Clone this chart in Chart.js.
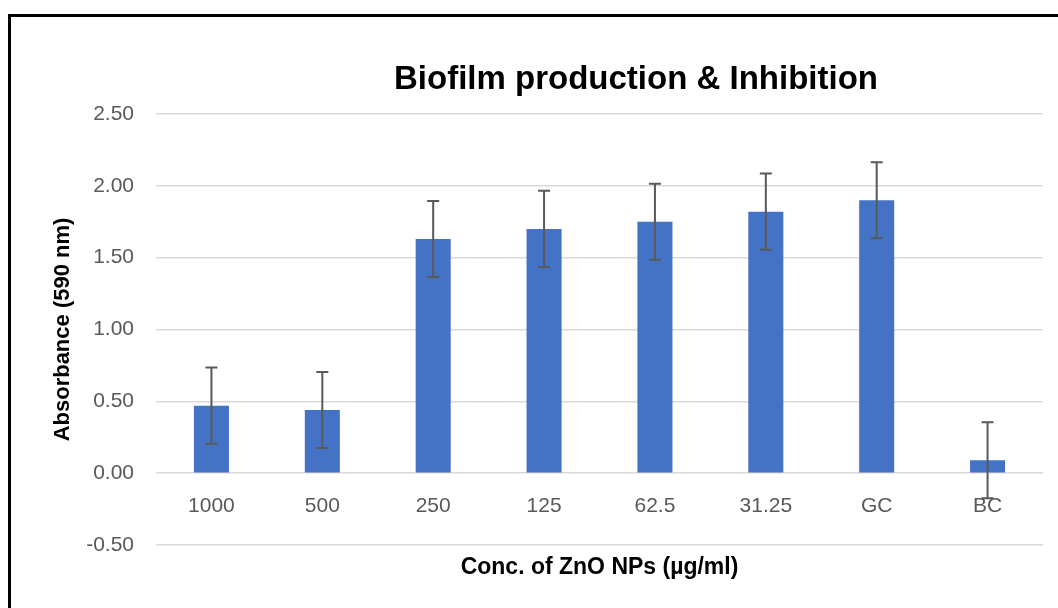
<!DOCTYPE html>
<html>
<head>
<meta charset="utf-8">
<script src="https://cdn.jsdelivr.net/npm/chart.js@4.4.1/dist/chart.umd.min.js"></script>
<style>
    body { margin: 0; overflow: hidden; background: #fff; }
    #moldura {
        position: absolute; left: 8px; top: 14px; width: 1200px; height: 700px;
        border-left: 3px solid #000; border-top: 3px solid #000;
    }
    #titulo {
        position: absolute; left: 336px; width: 600px; top: 58px;
        text-align: center; font: bold 33px "Liberation Sans", Arial, sans-serif;
        line-height: 40px; color: #000;
    }
    #grafico { position: absolute; left: 0; top: 0; }
</style>
</head>
<body>
<div id="moldura"></div>
<canvas id="grafico" width="1058" height="608"></canvas>
<div id="titulo">Biofilm production &amp; Inhibition</div>

<script>
// dados
var categorias = ['1000', '500', '250', '125', '62.5', '31.25', 'GC', 'BC'];
var absorbancia = [0.47, 0.44, 1.63, 1.70, 1.75, 1.82, 1.90, 0.09];
var erros = [0.265, 0.265, 0.265, 0.265, 0.265, 0.265, 0.265, 0.265];
var ticksY = [-0.5, 0, 0.5, 1.0, 1.5, 2.0, 2.5];

var fonte = '"Liberation Sans", Arial, sans-serif';

// desenha as barras de erro usando as escalas do proprio chart
var barrasErro = {
    id: 'barrasErro',
    afterDatasetsDraw: function (chart) {
        var ctx = chart.ctx;
        var x = chart.scales.x;
        var y = chart.scales.y;
        ctx.save();
        ctx.strokeStyle = '#595959';
        ctx.lineWidth = 2;
        for (var i = 0; i < absorbancia.length; i++) {
            var px = x.getPixelForValue(i);
            var topo = y.getPixelForValue(absorbancia[i] + erros[i]);
            var base = y.getPixelForValue(absorbancia[i] - erros[i]);
            ctx.beginPath();
            ctx.moveTo(px, topo);
            ctx.lineTo(px, base);
            ctx.moveTo(px - 6, topo);
            ctx.lineTo(px + 6, topo);
            ctx.moveTo(px - 6, base);
            ctx.lineTo(px + 6, base);
            ctx.stroke();
        }
        ctx.restore();
    }
};

new Chart(document.getElementById('grafico'), {
    type: 'bar',
    data: {
        labels: categorias,
        datasets: [{
            label: 'Absorbance',
            data: absorbancia,
            backgroundColor: '#4472C4',
            borderWidth: 0,
            barPercentage: 0.316,
            categoryPercentage: 1
        }]
    },
    options: {
        responsive: false,
        animation: false,
        devicePixelRatio: 1,
        layout: { padding: { left: 16, right: 15, top: 114, bottom: 0 } },
        plugins: {
            legend: { display: false },
            tooltip: { enabled: false },
            title: { display: false }
        },
        scales: {
            x: {
                position: { y: 0 },
                grid: { display: false },
                border: { display: false },
                ticks: {
                    color: '#595959',
                    padding: 12,
                    font: { family: fonte, size: 21 }
                }
            },
            x2: {
                axis: 'x',
                type: 'category',
                labels: categorias,
                position: 'bottom',
                grid: { display: false },
                border: { display: false },
                ticks: { display: false },
                title: {
                    display: true,
                    text: 'Conc. of ZnO NPs (µg/ml)',
                    color: '#000',
                    padding: { top: 0, bottom: 27 },
                    font: { family: fonte, size: 23, weight: 'bold' }
                },
                afterFit: function (escala) { escala.height = 63; }
            },
            y: {
                min: -0.5,
                max: 2.5,
                afterBuildTicks: function (escala) {
                    escala.ticks = ticksY.map(function (v) { return { value: v }; });
                },
                grid: { color: '#D9D9D9', lineWidth: 1.5, drawTicks: false },
                border: { display: false },
                ticks: {
                    color: '#595959',
                    padding: 22,
                    font: { family: fonte, size: 21 },
                    callback: function (v) { return Number(v).toFixed(2); }
                },
                title: {
                    display: true,
                    text: 'Absorbance (590 nm)',
                    color: '#000',
                    padding: { top: 34, bottom: 0 },
                    font: { family: fonte, size: 22, weight: 'bold' }
                },
                afterFit: function (escala) { escala.width = 140; }
            }
        }
    },
    plugins: [barrasErro]
});
</script>
</body>
</html>
